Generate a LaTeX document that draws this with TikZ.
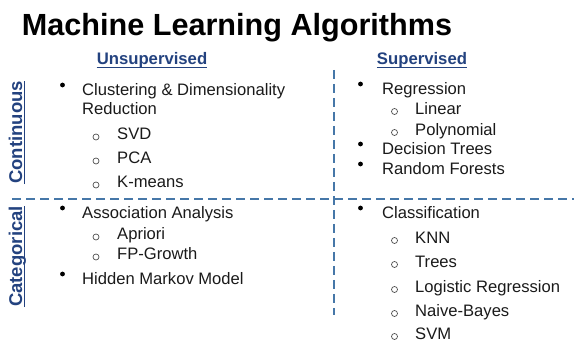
\documentclass[tikz,border=0pt]{standalone}
\usepackage{fontspec}
\setmainfont{Liberation Sans}
\definecolor{hdrblue}{HTML}{23427F}
\definecolor{dashblue}{HTML}{4677A8}
\definecolor{bodyink}{HTML}{1A1A1A}
\definecolor{subgray}{HTML}{505050}
\tikzset{
  body/.style={anchor=base west, inner sep=0pt, text=bodyink,
    font=\fontsize{16.6}{19}\selectfont},
  header/.style={anchor=base, inner sep=0pt, text=hdrblue,
    font=\fontsize{16.7}{19}\selectfont\bfseries},
  sidelabel/.style={anchor=base, inner sep=0pt, text=hdrblue, rotate=90,
    font=\fontsize{18.5}{21}\selectfont\bfseries},
  uline/.style={draw=hdrblue, line width=0.9pt},
  divider/.style={draw=dashblue, line width=1.4pt, dash pattern=on 9pt off 5pt},
  dot/.style={circle, fill=black, inner sep=0pt, minimum size=4.8pt},
  ring/.style={circle, draw=subgray, line width=0.7pt, inner sep=0pt, minimum size=6pt},
}
\begin{document}
\begin{tikzpicture}[x=1pt, y=-1pt]
\useasboundingbox (0,0) rectangle (574,347);

% title
\node[anchor=base, inner sep=0pt, font=\fontsize{30.6}{36}\selectfont\bfseries]
  (title) at (237,36) {Machine Learning Algorithms};

% column headers
\node[header] (unsup) at (152,65) {Unsupervised};
\node[header] (sup) at (422,65) {Supervised};
\draw[uline] ([yshift=-2.6pt]unsup.base west) -- ([yshift=-2.6pt]unsup.base east);
\draw[uline] ([yshift=-2.6pt]sup.base west) -- ([yshift=-2.6pt]sup.base east);

% row labels
\node[sidelabel] (cont) at (22,132.5) {Continuous};
\node[sidelabel] (cat) at (22,256.5) {Categorical};
\draw[uline] ([xshift=2.6pt]cont.base west) -- ([xshift=2.6pt]cont.base east);
\draw[uline] ([xshift=2.6pt]cat.base west) -- ([xshift=2.6pt]cat.base east);

% quadrant dividers
\coordinate (vtop) at (334,70);
\coordinate (vbot) at (334,315);
\coordinate (hleft) at (12,199);
\coordinate (hright) at (574,199);
\draw[divider] (vtop) -- (vbot);
\draw[divider] (hleft) -- (hright);

% unsupervised, continuous
\node[dot] at (62.5,85) {};
\node[body] (cdr) at (82,96) {Clustering \& Dimensionality};
\node[body] (red) at (82,115) {Reduction};
\node[ring] at (96,137) {};
\node[body] (svd) at (117,140) {SVD};
\node[ring] at (96,161) {};
\node[body] (pca) at (117,164) {PCA};
\node[ring] at (96,185) {};
\node[body] (km) at (117,188) {K-means};

% unsupervised, categorical
\node[dot] at (62.5,208) {};
\node[body] (assoc) at (82,219) {Association Analysis};
\node[ring] at (96,237) {};
\node[body] (apr) at (117,240) {Apriori};
\node[ring] at (96,257) {};
\node[body] (fpg) at (117,260) {FP-Growth};
\node[dot] at (62.5,274) {};
\node[body] (hmm) at (82,285) {Hidden Markov Model};

% supervised, continuous
\node[dot] at (360.5,84) {};
\node[body] (regr) at (382,95) {Regression};
\node[ring] at (394.5,111.5) {};
\node[body] (lin) at (415,115) {Linear};
\node[ring] at (394.5,132.5) {};
\node[body] (poly) at (415,136) {Polynomial};
\node[dot] at (360.5,144) {};
\node[body] (dt) at (382,155) {Decision Trees};
\node[dot] at (360.5,164) {};
\node[body] (rf) at (382,175) {Random Forests};

% supervised, categorical
\node[dot] at (360.5,208) {};
\node[body] (cls) at (382,219) {Classification};
\node[ring] at (394.5,240.5) {};
\node[body] (knn) at (415,244) {KNN};
\node[ring] at (394.5,264.5) {};
\node[body] (trees) at (415,268) {Trees};
\node[ring] at (394.5,289.5) {};
\node[body] (logr) at (415,293) {Logistic Regression};
\node[ring] at (394.5,313.5) {};
\node[body] (nb) at (415,317) {Naive-Bayes};
\node[ring] at (394.5,336.5) {};
\node[body] (svm) at (415,340) {SVM};
\end{tikzpicture}
\end{document}
